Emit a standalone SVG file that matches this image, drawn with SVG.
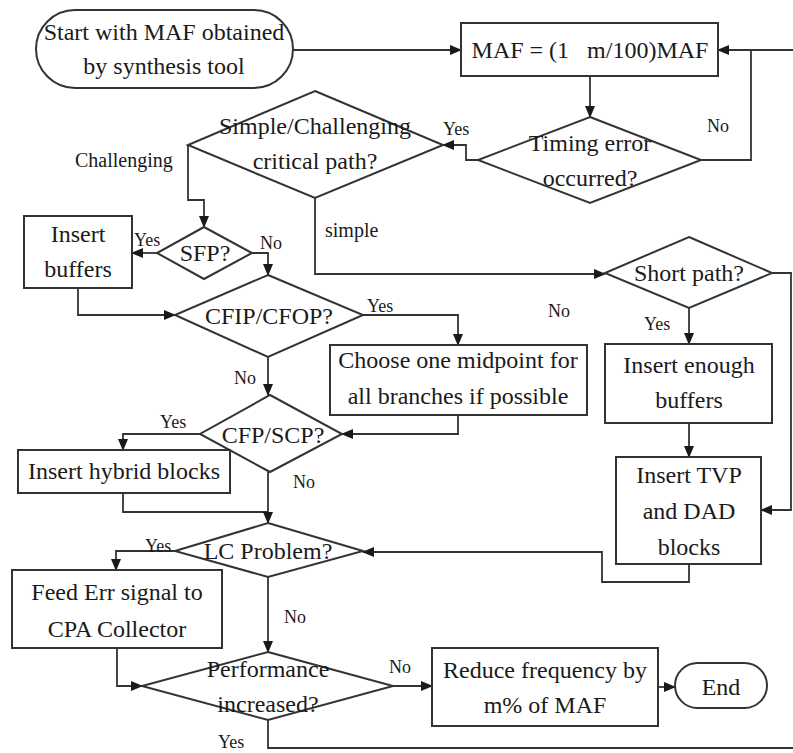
<svg xmlns="http://www.w3.org/2000/svg" width="793" height="753" viewBox="0 0 793 753" font-family="'Liberation Serif', 'DejaVu Serif', serif">
<defs>
<marker id="arr" markerUnits="userSpaceOnUse" markerWidth="12" markerHeight="10" refX="11" refY="5" orient="auto">
<path d="M0,0 L12,5 L0,10 Z" fill="#1a1a1a"/>
</marker>
<style>
.shape{fill:#fff;stroke:#333;stroke-width:2}
.conn path{fill:none;stroke:#333;stroke-width:1.8}
text{font-family:'Liberation Serif','DejaVu Serif',serif;fill:#1a1a1a}
.t{font-size:24px;text-anchor:middle}
.l{font-size:18px}
.m{font-size:20px}
</style>
</defs>
<rect width="793" height="753" fill="#fff"/>

<g class="conn">
<path d="M293,50 H461" marker-end="url(#arr)"/>
<path d="M590,76 V117" marker-end="url(#arr)"/>
<path d="M701,160 H751 V50"/>
<path d="M793,50 H718" marker-end="url(#arr)"/>
<path d="M478,160 H466 V145 H443" marker-end="url(#arr)"/>
<path d="M188,145 V200 H204 V227" marker-end="url(#arr)"/>
<path d="M315,198 V274 H605" marker-end="url(#arr)"/>
<path d="M157,253 H132" marker-end="url(#arr)"/>
<path d="M252,253 H268 V275" marker-end="url(#arr)"/>
<path d="M78,288 V315 H175" marker-end="url(#arr)"/>
<path d="M363,315 H458 V345" marker-end="url(#arr)"/>
<path d="M268,357 V395" marker-end="url(#arr)"/>
<path d="M458,415 V434 H342" marker-end="url(#arr)"/>
<path d="M200,434 H123 V450" marker-end="url(#arr)"/>
<path d="M123,493 V512 H268"/>
<path d="M268,472 V523" marker-end="url(#arr)"/>
<path d="M175,551 H116 V570" marker-end="url(#arr)"/>
<path d="M268,577 V652" marker-end="url(#arr)"/>
<path d="M117,648 V686 H142" marker-end="url(#arr)"/>
<path d="M393,686 H432" marker-end="url(#arr)"/>
<path d="M658,687 H675" marker-end="url(#arr)"/>
<path d="M268,720 V748 H793"/>
<path d="M689,308 V344" marker-end="url(#arr)"/>
<path d="M689,423 V457" marker-end="url(#arr)"/>
<path d="M772,273 H791 V510 H761" marker-end="url(#arr)"/>
<path d="M689,564 V582 H602 V552 H363" marker-end="url(#arr)"/>
</g>

<g id="start">
<rect class="shape" x="36" y="10" width="257" height="78" rx="39" ry="39"/>
<text class="t" x="164" y="40">Start with MAF obtained</text>
<text class="t" x="164" y="74">by synthesis tool</text>
</g>
<g id="maf">
<rect class="shape" x="461" y="23" width="257" height="53"/>
<text class="t" x="590" y="58" style="white-space:pre">MAF = (1   m/100)MAF</text>
</g>
<g id="timing">
<polygon class="shape" points="590,117 701,160 590,203 478,160"/>
<text class="t" x="590" y="151">Timing error</text>
<text class="t" x="590" y="186">occurred?</text>
</g>
<g id="simple-challenging">
<polygon class="shape" points="315,91 443,145 315,198 188,145"/>
<text class="t" x="315" y="134">Simple/Challenging</text>
<text class="t" x="315" y="169">critical path?</text>
</g>
<g id="sfp">
<polygon class="shape" points="204,227 252,253 204,279 157,253"/>
<text class="t" x="205" y="261">SFP?</text>
</g>
<g id="insert-buffers">
<rect class="shape" x="24" y="216" width="108" height="72"/>
<text class="t" x="78" y="242">Insert</text>
<text class="t" x="78" y="277">buffers</text>
</g>
<g id="cfip">
<polygon class="shape" points="268,275 363,315 268,357 175,315"/>
<text class="t" x="269" y="324">CFIP/CFOP?</text>
</g>
<g id="choose">
<rect class="shape" x="330" y="345" width="257" height="70"/>
<text class="t" x="458" y="368">Choose one midpoint for</text>
<text class="t" x="458" y="404">all branches if possible</text>
</g>
<g id="cfp">
<polygon class="shape" points="270,395 342,434 270,472 200,434"/>
<text class="t" x="273" y="443">CFP/SCP?</text>
</g>
<g id="insert-hybrid">
<rect class="shape" x="18" y="450" width="212" height="43"/>
<text class="t" x="124" y="479">Insert hybrid blocks</text>
</g>
<g id="short-path">
<polygon class="shape" points="689,237 772,273 689,308 605,273"/>
<text class="t" x="689" y="281">Short path?</text>
</g>
<g id="insert-enough">
<rect class="shape" x="605" y="344" width="167" height="79"/>
<text class="t" x="689" y="373">Insert enough</text>
<text class="t" x="689" y="408">buffers</text>
</g>
<g id="tvp">
<rect class="shape" x="616" y="457" width="145" height="107"/>
<text class="t" x="689" y="483">Insert TVP</text>
<text class="t" x="689" y="519">and DAD</text>
<text class="t" x="689" y="555">blocks</text>
</g>
<g id="lc">
<polygon class="shape" points="268,523 363,551 268,577 175,551"/>
<text class="t" x="268" y="559">LC Problem?</text>
</g>
<g id="feed">
<rect class="shape" x="12" y="570" width="210" height="78"/>
<text class="t" x="117" y="600">Feed Err signal to</text>
<text class="t" x="117" y="637">CPA Collector</text>
</g>
<g id="performance">
<polygon class="shape" points="268,652 393,686 268,720 142,686"/>
<text class="t" x="268" y="677">Performance</text>
<text class="t" x="268" y="712">increased?</text>
</g>
<g id="reduce">
<rect class="shape" x="432" y="648" width="226" height="78"/>
<text class="t" x="545" y="678">Reduce frequency by</text>
<text class="t" x="545" y="713">m% of MAF</text>
</g>
<g id="end">
<rect class="shape" x="675" y="663" width="92" height="45" rx="22.5" ry="22.5"/>
<text class="t" x="721" y="695">End</text>
</g>

<g id="labels">
<text class="l" x="443" y="135">Yes</text>
<text class="l" x="707" y="132">No</text>
<text class="m" x="75" y="167">Challenging</text>
<text class="m" x="325" y="237">simple</text>
<text class="l" x="134" y="246">Yes</text>
<text class="l" x="260" y="249">No</text>
<text class="l" x="367" y="312">Yes</text>
<text class="l" x="548" y="317">No</text>
<text class="l" x="644" y="330">Yes</text>
<text class="l" x="234" y="384">No</text>
<text class="l" x="160" y="428">Yes</text>
<text class="l" x="293" y="488">No</text>
<text class="l" x="145" y="552">Yes</text>
<text class="l" x="284" y="623">No</text>
<text class="l" x="389" y="673">No</text>
<text class="l" x="218" y="748">Yes</text>
</g>
</svg>
